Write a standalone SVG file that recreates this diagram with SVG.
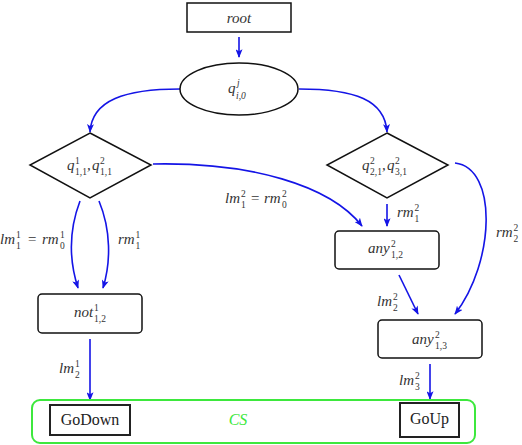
<svg xmlns="http://www.w3.org/2000/svg" width="522" height="445" viewBox="0 0 522 445">
<style>
.nd{fill:#fff;stroke:#111;stroke-width:1.5}
.bx{fill:#fff;stroke:#222;stroke-width:2}
.m{font-family:"Liberation Serif",serif;font-style:italic;font-size:15px;fill:#333}
.s{font-family:"Liberation Serif",serif;font-size:9.5px;fill:#333}
.si{font-family:"Liberation Serif",serif;font-style:italic;font-size:9.5px;fill:#333}
.r{font-family:"Liberation Serif",serif;font-size:16px;fill:#222}
.e{fill:none;stroke:#1414e6;stroke-width:1.6;marker-end:url(#ah)}
</style>
<defs>
<marker id="ah" viewBox="0 0 10 8" refX="9" refY="4" markerWidth="9" markerHeight="7" orient="auto" markerUnits="userSpaceOnUse">
<path d="M0,0 L10,4 L0,8 L2.5,4 z" fill="#1414e6"/>
</marker>
</defs>
<g id="connectors">
<path class="e" d="M239,37 L239,57"/>
<path class="e" d="M180,89 C125,89 92,100 90,132"/>
<path class="e" d="M299,89 C355,89 385,100 387,132"/>
<path class="e" d="M80,201 C69,230 69,260 78,288"/>
<path class="e" d="M99,201 C111,230 111,262 103,288"/>
<path class="e" d="M153,164 C250,162 330,185 362,226"/>
<path class="e" d="M387,204 L387,226"/>
<path class="e" d="M399,275 L418,314"/>
<path class="e" d="M455,163 C498,168 495,262 455,314"/>
<path class="e" d="M90,339 L90,400"/>
<path class="e" d="M430,364 L430,399"/>
</g>
<g id="cs">
<rect x="32" y="400" width="443" height="43" rx="8" fill="none" stroke="#3de83d" stroke-width="2"/>
<text x="238" y="425" text-anchor="middle" font-family="Liberation Serif,serif" font-style="italic" font-size="16" fill="#3de83d">CS</text>
</g>
<g id="root">
<rect class="nd" x="187" y="3" width="104" height="29"/>
<text class="m" x="239" y="23" text-anchor="middle">root</text>
</g>
<g id="q_i0">
<ellipse class="nd" cx="239" cy="89" rx="59" ry="26"/>
<text class="m" x="228" y="93">q</text>
<text class="si" x="237" y="86">j</text>
<text class="si" x="236" y="99">i<tspan class="s">,0</tspan></text>
</g>
<g id="d1">
<polygon class="nd" points="90,133 151,165 90,198 30,165"/>
<text class="m" x="67" y="170">q</text>
<text class="s" x="75" y="164">1</text>
<text class="s" x="75" y="175">1,1</text>
<text class="m" x="87" y="170">,</text>
<text class="m" x="92" y="170">q</text>
<text class="s" x="100" y="164">2</text>
<text class="s" x="100" y="175">1,1</text>
</g>
<g id="d2">
<polygon class="nd" points="387,133 448,165 387,198 327,165"/>
<text class="m" x="362" y="170">q</text>
<text class="s" x="370" y="164">2</text>
<text class="s" x="370" y="175">2,1</text>
<text class="m" x="382" y="170">,</text>
<text class="m" x="387" y="170">q</text>
<text class="s" x="395" y="164">2</text>
<text class="s" x="395" y="175">3,1</text>
</g>
<g id="not12">
<rect class="nd" x="38" y="294" width="104" height="39" rx="4"/>
<text class="m" x="74" y="317">not</text>
<text class="s" x="94" y="311">1</text>
<text class="s" x="94" y="322">1,2</text>
</g>
<g id="any12">
<rect class="nd" x="335" y="231" width="104" height="38" rx="4"/>
<text class="m" x="368" y="253">any</text>
<text class="s" x="391" y="247">2</text>
<text class="s" x="391" y="258">1,2</text>
</g>
<g id="any13">
<rect class="nd" x="378" y="320" width="104" height="38" rx="4"/>
<text class="m" x="412" y="344">any</text>
<text class="s" x="435" y="338">2</text>
<text class="s" x="435" y="349">1,3</text>
</g>
<g id="godown">
<rect class="bx" x="50" y="405" width="80" height="30"/>
<text class="r" x="90" y="425" text-anchor="middle">GoDown</text>
</g>
<g id="goup">
<rect class="bx" x="400" y="403" width="59" height="34"/>
<text class="r" x="429.5" y="424" text-anchor="middle">GoUp</text>
</g>
<g id="labels">
<text class="m" x="0" y="244">lm</text><text class="s" x="16" y="238">1</text><text class="s" x="16" y="249">1</text>
<text class="m" x="27" y="244">=</text>
<text class="m" x="42" y="244">rm</text><text class="s" x="60" y="238">1</text><text class="s" x="60" y="249">0</text>
<text class="m" x="118" y="244">rm</text><text class="s" x="135.5" y="238">1</text><text class="s" x="135.5" y="249">1</text>
<text class="m" x="225" y="203">lm</text><text class="s" x="241" y="197">2</text><text class="s" x="241" y="208">1</text>
<text class="m" x="250" y="203">=</text>
<text class="m" x="264" y="203">rm</text><text class="s" x="282" y="197">2</text><text class="s" x="282" y="208">0</text>
<text class="m" x="397" y="217">rm</text><text class="s" x="414.5" y="211">2</text><text class="s" x="414.5" y="222">1</text>
<text class="m" x="496" y="237">rm</text><text class="s" x="513.5" y="231">2</text><text class="s" x="513.5" y="242">2</text>
<text class="m" x="377" y="306">lm</text><text class="s" x="393" y="300">2</text><text class="s" x="393" y="311">2</text>
<text class="m" x="59" y="373">lm</text><text class="s" x="75" y="367">1</text><text class="s" x="75" y="378">2</text>
<text class="m" x="399" y="385">lm</text><text class="s" x="415" y="379">2</text><text class="s" x="415" y="390">3</text>
</g>
</svg>
